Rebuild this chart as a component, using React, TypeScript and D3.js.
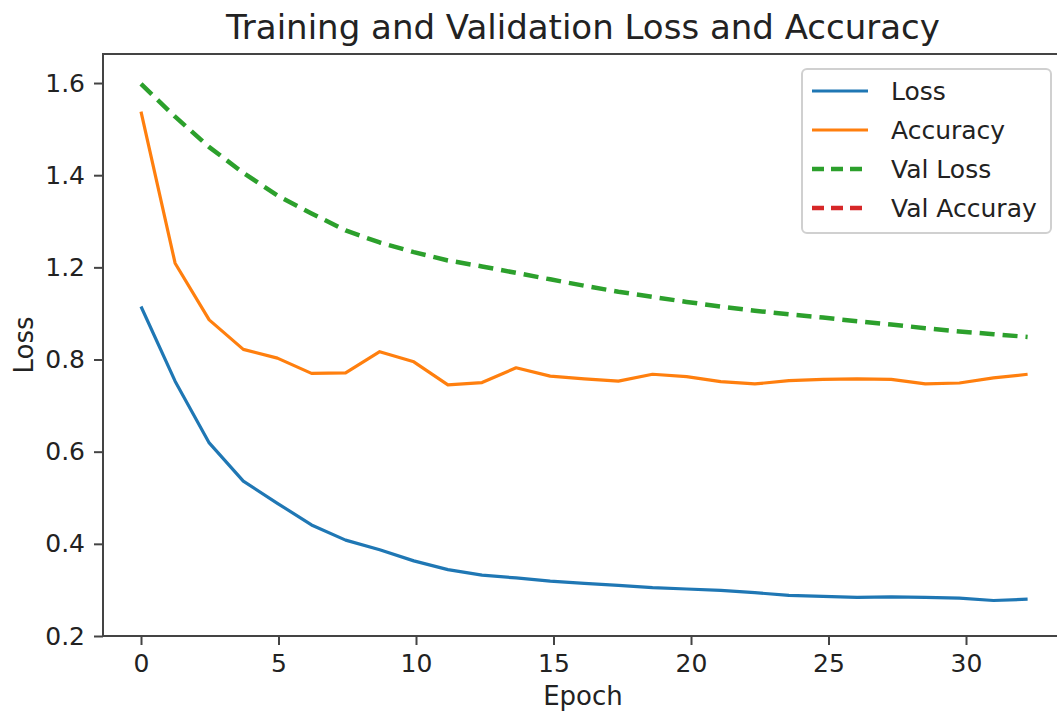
import React from "react";
import * as d3 from "d3";

// epochs as plotted along the x axis
const epochs = [
  0, 1.24, 2.48, 3.72, 4.96, 6.2, 7.44, 8.68, 9.92, 11.16, 12.4, 13.64, 14.88,
  16.12, 17.36, 18.6, 19.84, 21.08, 22.32, 23.56, 24.8, 26.04, 27.28, 28.52,
  29.76, 31, 32.24,
];

const loss = [
  0.915, 0.753, 0.619, 0.536, 0.488, 0.441, 0.408, 0.387, 0.363, 0.344, 0.332,
  0.326, 0.319, 0.314, 0.31, 0.305, 0.302, 0.299, 0.294, 0.288, 0.286, 0.284,
  0.285, 0.284, 0.282, 0.277, 0.28,
];

const accuracy = [
  1.338, 1.009, 0.886, 0.822, 0.803, 0.77, 0.771, 0.817, 0.795, 0.745, 0.75,
  0.782, 0.764, 0.758, 0.753, 0.768, 0.763, 0.752, 0.747, 0.754, 0.757, 0.758,
  0.757, 0.747, 0.749, 0.76, 0.768,
];

const valLoss = [
  1.398, 1.327, 1.261, 1.205, 1.156, 1.117, 1.08, 1.054, 1.033, 1.015, 1.002,
  0.988, 0.974, 0.96, 0.947, 0.936, 0.925, 0.915, 0.906, 0.898, 0.891, 0.883,
  0.876, 0.868, 0.861, 0.855, 0.849,
];

const xTicks = [0, 5, 10, 15, 20, 25, 30];
const yTicks = [0.2, 0.4, 0.6, 0.8, 1.0, 1.2, 1.4];
const yTickLabels = ["0.2", "0.4", "0.6", "0.8", "1.2", "1.4", "1.6"];

const series = [
  { label: "Loss", values: loss, color: "#1f77b4", dash: null, width: 3.2 },
  { label: "Accuracy", values: accuracy, color: "#ff7f0e", dash: null, width: 3.2 },
  { label: "Val Loss", values: valLoss, color: "#2ca02c", dash: "15 8", width: 4.5 },
  { label: "Val Accuray", values: [] as number[], color: "#d62728", dash: "12 7", width: 4.5 },
];

const W = 1057;
const H = 711;
const left = 103;
const right = 1063;
const top = 54;
const bottom = 636;
const font = "DejaVu Sans, sans-serif";

export default function App() {
  const x = d3.scaleLinear().domain([-1.382, 33.527]).range([left, right]);
  const y = d3.scaleLinear().domain([0.2, 1.463]).range([bottom, top]);

  const line = d3
    .line<number>()
    .x((_, i) => x(epochs[i]))
    .y((d) => y(d));

  const xAxis = d3.axisBottom(x).tickValues(xTicks).tickSize(9).tickPadding(9);
  const yAxis = d3
    .axisLeft(y)
    .tickValues(yTicks)
    .tickFormat((_, i) => yTickLabels[i])
    .tickSize(9)
    .tickPadding(9);

  const styleAxis = (node: SVGGElement | null, axis: any) => {
    if (!node) return;
    const g = d3.select(node);
    g.call(axis);
    g.select(".domain").remove();
    g.attr("font-family", font).attr("font-size", 25);
    g.selectAll("line").attr("stroke", "#444").attr("stroke-width", 2);
    g.selectAll("text").attr("fill", "#222");
  };

  const legendX = 802;
  const legendY = 69;
  const rowH = 39;

  return (
    <svg
      width={W}
      height={H}
      style={{ position: "absolute", left: 0, top: 0, background: "#fff" }}
    >
      <rect width={W} height={H} fill="#fff" />
      <text
        x={(left + right) / 2}
        y={39}
        textAnchor="middle"
        fontFamily={font}
        fontSize={34}
        fill="#222"
      >
        Training and Validation Loss and Accuracy
      </text>

      {series
        .filter((s) => s.values.length)
        .map((s) => (
          <path
            key={s.label}
            d={line(s.values) || ""}
            fill="none"
            stroke={s.color}
            strokeWidth={s.width}
            strokeDasharray={s.dash || undefined}
            strokeLinejoin="round"
          />
        ))}

      <rect
        x={left}
        y={top}
        width={right - left}
        height={bottom - top}
        fill="none"
        stroke="#444"
        strokeWidth={2}
      />
      <g transform={`translate(0, ${bottom})`} ref={(n) => styleAxis(n, xAxis)} />
      <g transform={`translate(${left}, 0)`} ref={(n) => styleAxis(n, yAxis)} />

      <text
        x={(left + right) / 2}
        y={705}
        textAnchor="middle"
        fontFamily={font}
        fontSize={26}
        fill="#222"
      >
        Epoch
      </text>
      <text
        transform={`translate(33, ${(top + bottom) / 2}) rotate(-90)`}
        textAnchor="middle"
        fontFamily={font}
        fontSize={26}
        fill="#222"
      >
        Loss
      </text>

      <g>
        <rect
          x={legendX}
          y={legendY}
          width={249}
          height={164}
          rx={5}
          fill="#fff"
          fillOpacity={0.85}
          stroke="#d0d0d0"
          strokeWidth={2}
        />
        {series.map((s, i) => {
          const cy = legendY + 22 + i * rowH;
          return (
            <g key={s.label}>
              <line
                x1={812}
                x2={868}
                y1={cy}
                y2={cy}
                stroke={s.color}
                strokeWidth={s.width}
                strokeDasharray={s.dash ? "12 7" : undefined}
              />
              <text
                x={891}
                y={cy + 9}
                fontFamily={font}
                fontSize={25}
                fill="#222"
              >
                {s.label}
              </text>
            </g>
          );
        })}
      </g>
    </svg>
  );
}
